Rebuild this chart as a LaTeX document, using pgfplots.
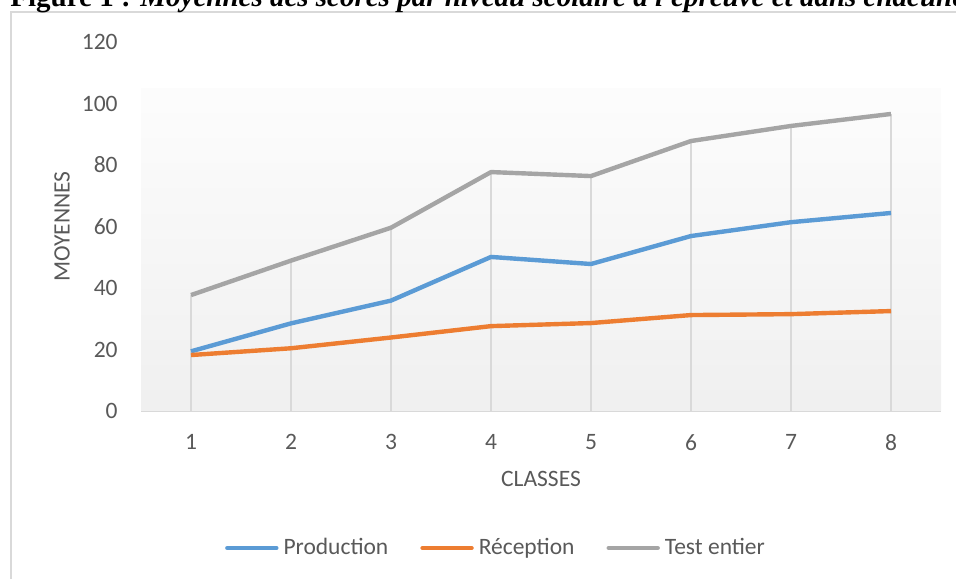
\documentclass[border=0pt]{standalone}
\usepackage{pgfplots}
\usepackage{pgfplotstable}
\pgfplotsset{compat=1.18}
\usepackage{fontspec}
\setmainfont{Carlito}
\newfontfamily\titlefont{Liberation Serif}
\definecolor{prodblue}{HTML}{5B9BD5}
\definecolor{recorange}{HTML}{ED7D31}
\definecolor{testgray}{HTML}{A5A5A5}
\definecolor{gridgray}{HTML}{D9D9D9}
\definecolor{textgray}{HTML}{595959}
\pgfplotstableread{
x prod rec test
1 19.4 18.2 37.7
2 28.5 20.4 48.9
3 35.9 23.9 59.6
4 50.1 27.6 77.7
5 47.8 28.6 76.4
6 56.9 31.2 87.8
7 61.4 31.5 92.7
8 64.4 32.5 96.6
}\data
\begin{document}
\begin{tikzpicture}
\begin{axis}[
  at={(70.5pt,83.5pt)}, anchor=south west,
  scale only axis, width=400pt, height=184.5pt,
  xmin=0.5, xmax=8.5, ymin=0, ymax=120,
  axis x line=bottom, axis y line=left,
  axis line style={-},
  x axis line style={draw=gridgray, line width=1pt},
  y axis line style={draw=none},
  major tick length=0pt,
  xtick={1,...,8}, ytick={0,20,...,120},
  /pgf/number format/assume math mode=true,
  tick label style={font=\fontsize{11.75}{14}\selectfont, text=textgray, inner sep=0pt},
  yticklabel style={anchor=east, xshift=-11.5pt},
  xticklabel style={anchor=north, yshift=-11.5pt},
  xlabel={CLASSES}, ylabel={MOYENNES},
  label style={font=\fontsize{11.75}{14}\selectfont, text=textgray, inner sep=0pt},
  xlabel style={at={(axis description cs:0.5,0)}, anchor=center, yshift=-34pt},
  ylabel style={at={(axis description cs:0,0.5)}, anchor=center, rotate=0, yshift=39.5pt},
  legend columns=3,
  legend style={draw=none, fill=none, at={(0.4425,-0.3713)}, anchor=center,
    inner sep=0pt, nodes={inner sep=0pt, text=textgray, font=\fontsize{11.75}{14}\selectfont},
    /tikz/every odd column/.style={column sep=2.5pt},
    /tikz/every even column/.style={column sep=16pt}},
  legend image code/.code={\draw[#1, line cap=round] (1pt,0pt) -- (25.5pt,0pt);},
]
\fill[top color=black!1, bottom color=black!6] (axis cs:0.5,0.3) rectangle (axis cs:8.5,105);
\addplot[ycomb, draw=gridgray, line width=1pt, forget plot] table[x=x, y=test] {\data};
\addplot[prodblue, line width=2.2pt, line join=round] table[x=x, y=prod] {\data};
\addlegendentry{Production}
\addplot[recorange, line width=2.2pt, line join=round] table[x=x, y=rec] {\data};
\addlegendentry{Réception}
\addplot[testgray, line width=2.2pt, line join=round] table[x=x, y=test] {\data};
\addlegendentry{Test entier}
\end{axis}
\draw[gridgray, line width=1pt] (5.5pt,-10pt) rectangle (500pt,283pt);
\node[anchor=base west, inner sep=0pt, font=\titlefont\fontsize{14.5}{16}\selectfont\bfseries] at (5pt,285.5pt)
  {Figure 1 : \textit{Moyennes des scores par niveau scolaire à l'épreuve et dans chacune des sous-épreuves}};
\pgfresetboundingbox
\useasboundingbox (0,0) rectangle (478pt,289pt);
\end{tikzpicture}
\end{document}
